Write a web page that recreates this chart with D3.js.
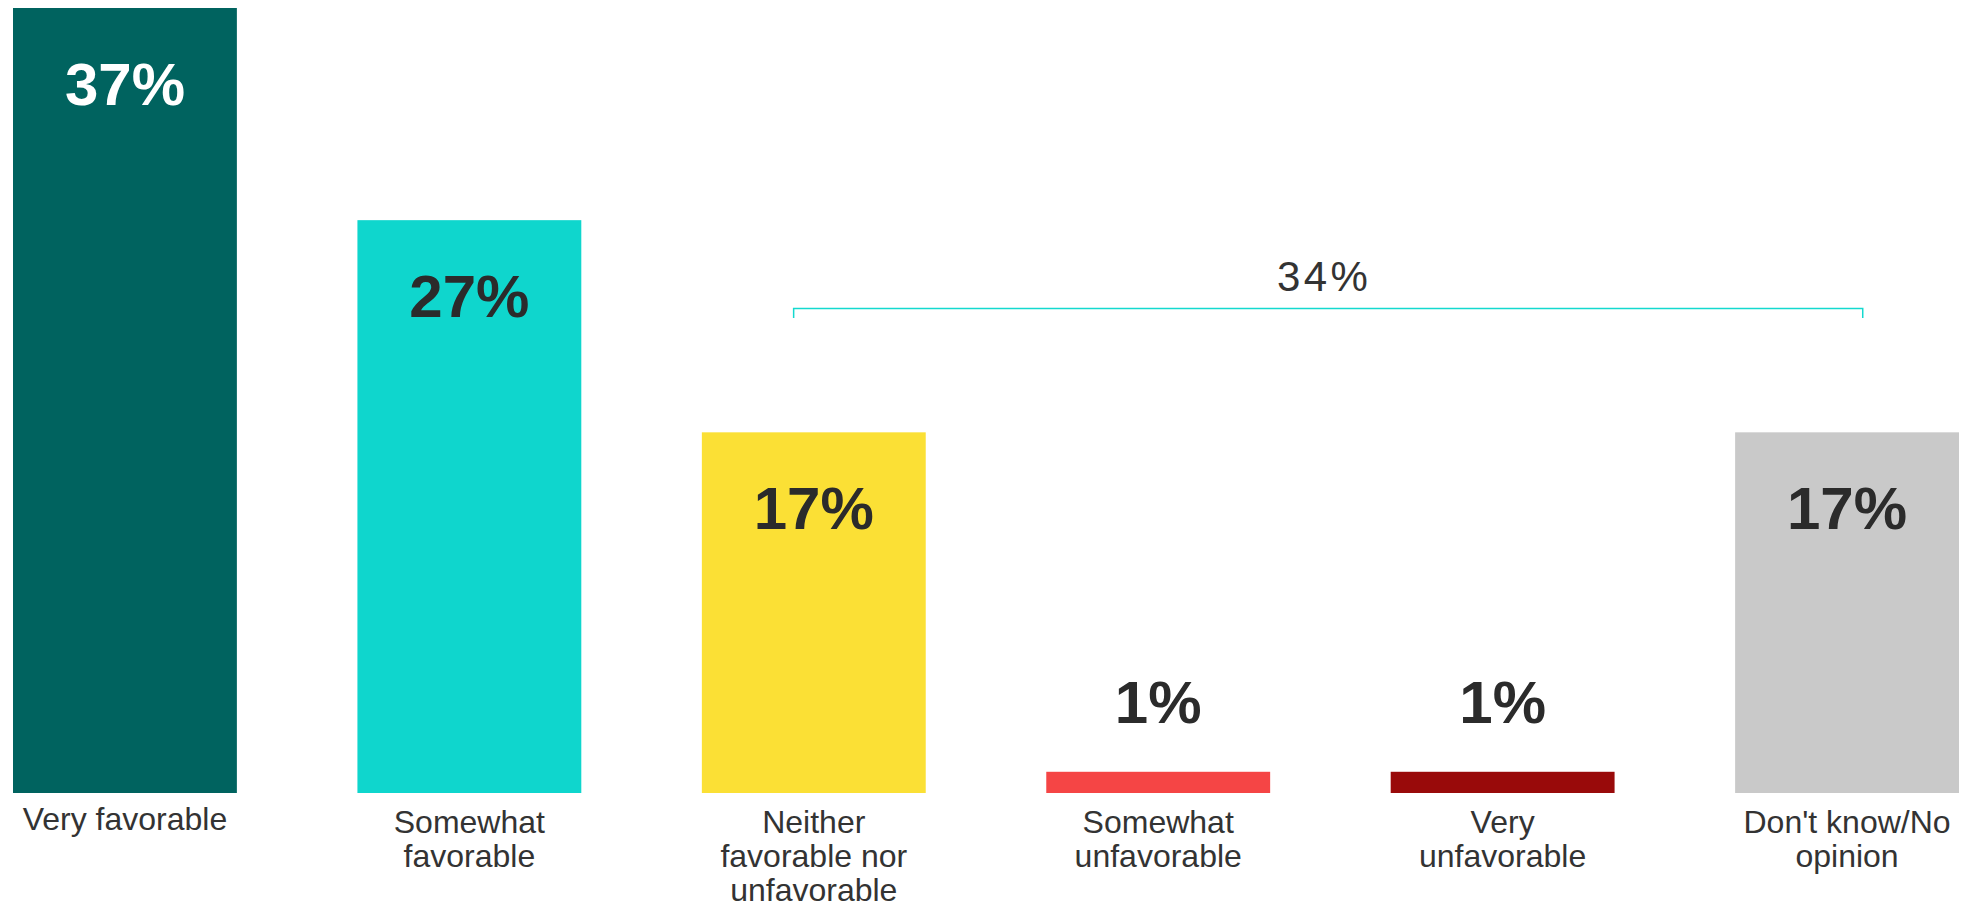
<!DOCTYPE html>
<html>
<head>
<meta charset="utf-8">
<script src="https://cdn.jsdelivr.net/npm/d3@7"></script>
<style>
  body { margin: 0; background: #fff; }
  svg { display: block; font-family: "Liberation Sans", Arial, sans-serif; }
</style>
</head>
<body>
<svg></svg>
<script>
// data
const categories = ['Very favorable', 'Somewhat favorable', 'Neither favorable nor unfavorable',
                    'Somewhat unfavorable', 'Very unfavorable', "Don't know/No opinion"];
const labelLines = [['Very favorable'], ['Somewhat', 'favorable'], ['Neither', 'favorable nor', 'unfavorable'],
                    ['Somewhat', 'unfavorable'], ['Very', 'unfavorable'], ["Don't know/No", 'opinion']];
const values = [37, 27, 17, 1, 1, 17];
const bracketLabel = '34%';
const bracketFrom = 'Neither favorable nor unfavorable';
const bracketTo = "Don't know/No opinion";

const palette = ['#00635f', '#0fd6cd', '#fbe035', '#f54545', '#990a0a', '#c9c9c9'];
const valueTextColor = ['#ffffff', '#2b2b2b', '#2b2b2b', '#2b2b2b', '#2b2b2b', '#2b2b2b'];

const width = 1964, height = 906;
const baseY = 793, topY = 8;

const svg = d3.select('svg')
  .attr('width', width)
  .attr('height', height);

const x = d3.scaleBand()
  .domain(categories)
  .range([13, 1959])
  .paddingInner(0.35)
  .paddingOuter(0);

const y = d3.scaleLinear()
  .domain([0, d3.max(values)])
  .range([baseY, topY]);

const rows = categories.map((c, i) => ({ cat: c, value: values[i], lines: labelLines[i], i: i }));

svg.selectAll('rect.bar')
  .data(rows)
  .enter()
  .append('rect')
  .attr('class', 'bar')
  .attr('x', d => x(d.cat))
  .attr('y', d => y(d.value))
  .attr('width', x.bandwidth())
  .attr('height', d => baseY - y(d.value))
  .style('fill', d => palette[d.i]);

// value labels: inside for tall bars, above for the tiny ones
svg.selectAll('text.value')
  .data(rows)
  .enter()
  .append('text')
  .attr('class', 'value')
  .attr('x', d => x(d.cat) + x.bandwidth() / 2)
  .attr('y', d => (baseY - y(d.value) > 120) ? y(d.value) + 97 : y(d.value) - 49)
  .attr('text-anchor', 'middle')
  .style('font-size', '60px')
  .style('font-weight', 'bold')
  .style('fill', d => valueTextColor[d.i])
  .text(d => d.value + '%');

// category labels under the bars
const catLabel = svg.selectAll('text.cat')
  .data(rows)
  .enter()
  .append('text')
  .attr('class', 'cat')
  .attr('text-anchor', 'middle')
  .style('font-size', '32px')
  .style('fill', '#333');

catLabel.selectAll('tspan')
  .data(d => d.lines.map(l => ({ text: l, n: d.lines.length, cx: x(d.cat) + x.bandwidth() / 2 })))
  .enter()
  .append('tspan')
  .attr('x', d => d.cx)
  .attr('y', (d, j) => (d.n === 1 ? 830 : 833) + j * 34)
  .text(d => d.text);

// bracket over the last four bars
const bx0 = x(bracketFrom) + x.bandwidth() * 0.41;
const bx1 = x(bracketTo) + x.bandwidth() * 0.57;
const by = 308.5;

svg.append('path')
  .attr('d', `M${bx0},${by + 9.5}V${by}H${bx1}V${by + 9.5}`)
  .style('fill', 'none')
  .style('stroke', '#14d9cf')
  .style('stroke-width', 1.5);

svg.append('text')
  .attr('x', (bx0 + bx1) / 2 - 4)
  .attr('y', 291)
  .attr('text-anchor', 'middle')
  .style('font-size', '42px')
  .style('letter-spacing', '3.5px')
  .style('fill', '#333')
  .text(bracketLabel);
</script>
</body>
</html>
